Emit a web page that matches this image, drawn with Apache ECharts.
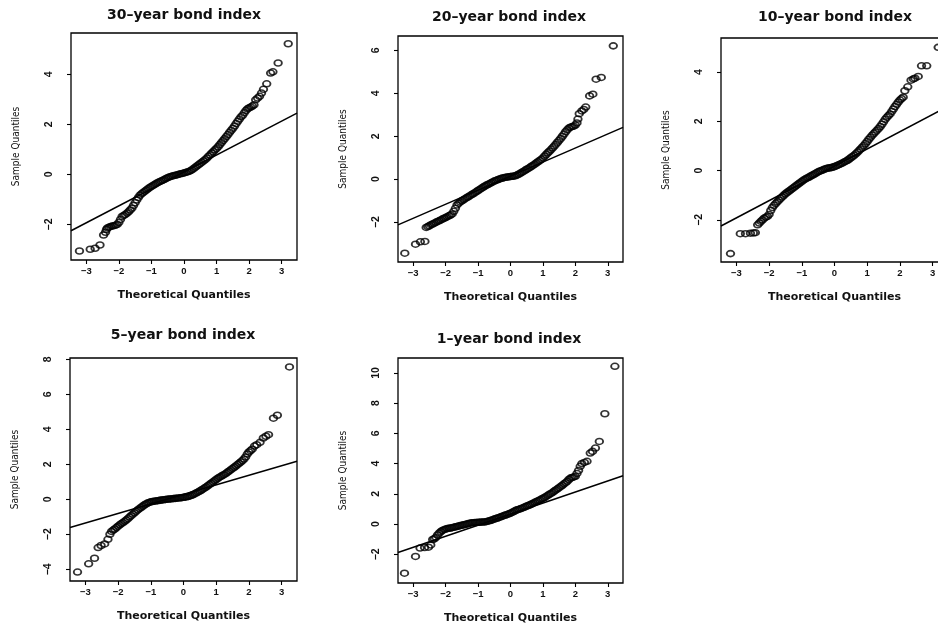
<!DOCTYPE html>
<html>
<head>
<meta charset="utf-8">
<script src="https://cdn.jsdelivr.net/npm/echarts@6/dist/echarts.min.js"></script>
<style>
  html, body { margin: 0; padding: 0; background: #fff; }
  #chart { width: 938px; height: 629px; }
</style>
</head>
<body>
<div id="chart"></div>
<script>
// Normal Q-Q plots of daily returns for five bond indices.
const titles = ['30–year bond index', '20–year bond index', '10–year bond index', '5–year bond index', '1–year bond index'];

// Tick values
const xTicks = [-3, -2, -1, 0, 1, 2, 3];
const yTicks30 = [-2, 0, 2, 4];
const yTicks20 = [-2, 0, 2, 4, 6];
const yTicks10 = [-2, 0, 2, 4];
const yTicks5 = [-4, -2, 0, 2, 4, 6, 8];
const yTicks1 = [-2, 0, 2, 4, 6, 8, 10];

// Axis extents
const xRange = [-3.47, 3.47];
const yRange30 = [-3.42, 5.65];
const yRange20 = [-3.86, 6.67];
const yRange10 = [-3.71, 5.38];
const yRange5 = [-4.67, 8.07];
const yRange1 = [-3.9, 10.99];

// [theoretical quantile, sample quantile]
const q30 = [
  [-3.21,-3.06],[-2.88,-2.99],[-2.73,-2.95],[-2.58,-2.82],[-2.47,-2.42],[-2.41,-2.31],[-2.38,-2.20],
  [-2.35,-2.14],[-2.30,-2.11],[-2.25,-2.08],[-2.20,-2.06],[-2.15,-2.05],[-2.10,-2.03],[-2.05,-2.00],[-2.00,-1.92],
  [-1.95,-1.80],[-1.90,-1.68],[-1.85,-1.64],[-1.80,-1.60],[-1.75,-1.55],[-1.70,-1.49],[-1.65,-1.42],[-1.60,-1.35],
  [-1.55,-1.24],[-1.50,-1.13],[-1.45,-1.02],[-1.40,-0.92],[-1.35,-0.83],[-1.30,-0.77],[-1.25,-0.72],[-1.20,-0.67],
  [-1.15,-0.62],[-1.10,-0.57],[-1.05,-0.52],[-1.00,-0.48],[-0.95,-0.44],[-0.90,-0.40],[-0.85,-0.36],[-0.80,-0.32],
  [-0.75,-0.29],[-0.70,-0.26],[-0.65,-0.23],[-0.60,-0.20],[-0.55,-0.16],[-0.50,-0.13],[-0.45,-0.10],[-0.40,-0.08],
  [-0.35,-0.06],[-0.30,-0.04],[-0.25,-0.03],[-0.20,-0.01],[-0.15,0.01],[-0.10,0.03],[-0.05,0.04],[0.00,0.06],
  [0.05,0.08],[0.10,0.10],[0.15,0.12],[0.20,0.15],[0.25,0.19],[0.30,0.24],[0.35,0.29],[0.40,0.34],
  [0.45,0.39],[0.50,0.44],[0.55,0.49],[0.60,0.54],[0.65,0.59],[0.70,0.65],[0.75,0.72],[0.80,0.78],
  [0.85,0.85],[0.90,0.91],[0.95,0.98],[1.00,1.04],[1.05,1.11],[1.10,1.19],[1.15,1.27],[1.20,1.35],
  [1.25,1.43],[1.30,1.51],[1.35,1.59],[1.40,1.68],[1.45,1.76],[1.50,1.84],[1.55,1.93],[1.60,2.03],
  [1.65,2.12],[1.70,2.21],[1.75,2.30],[1.80,2.36],[1.85,2.46],[1.90,2.55],[1.95,2.62],[2.00,2.66],
  [2.05,2.69],[2.10,2.73],[2.15,2.78],[2.20,2.98],[2.26,3.05],[2.32,3.12],[2.38,3.25],[2.44,3.40],
  [2.54,3.62],[2.66,4.05],[2.73,4.10],[2.89,4.45],[3.20,5.22]
];
const q20 = [
  [-3.26,-3.45],[-2.93,-3.03],[-2.78,-2.92],[-2.64,-2.90],[-2.60,-2.25],
  [-2.55,-2.21],[-2.50,-2.17],[-2.45,-2.12],[-2.40,-2.09],[-2.35,-2.05],[-2.30,-2.01],[-2.25,-1.97],[-2.20,-1.94],
  [-2.15,-1.90],[-2.10,-1.86],[-2.05,-1.82],[-2.00,-1.79],[-1.95,-1.75],[-1.90,-1.71],[-1.85,-1.67],[-1.80,-1.62],
  [-1.75,-1.50],[-1.70,-1.36],[-1.65,-1.20],[-1.60,-1.12],[-1.55,-1.06],[-1.50,-1.01],[-1.45,-0.96],[-1.40,-0.91],
  [-1.35,-0.86],[-1.30,-0.82],[-1.25,-0.77],[-1.20,-0.72],[-1.15,-0.68],[-1.10,-0.63],[-1.05,-0.58],[-1.00,-0.53],
  [-0.95,-0.48],[-0.90,-0.43],[-0.85,-0.38],[-0.80,-0.33],[-0.75,-0.29],[-0.70,-0.25],[-0.65,-0.21],[-0.60,-0.17],
  [-0.55,-0.13],[-0.50,-0.09],[-0.45,-0.06],[-0.40,-0.03],[-0.35,0.00],[-0.30,0.03],[-0.25,0.05],[-0.20,0.07],
  [-0.15,0.09],[-0.10,0.10],[-0.05,0.11],[0.00,0.12],[0.05,0.13],[0.10,0.14],[0.15,0.16],[0.20,0.19],
  [0.25,0.23],[0.30,0.27],[0.35,0.32],[0.40,0.36],[0.45,0.41],[0.50,0.46],[0.55,0.50],[0.60,0.55],
  [0.65,0.60],[0.70,0.65],[0.75,0.70],[0.80,0.76],[0.85,0.81],[0.90,0.87],[0.95,0.92],[1.00,0.99],
  [1.05,1.07],[1.10,1.15],[1.15,1.23],[1.20,1.30],[1.25,1.38],[1.30,1.46],[1.35,1.54],[1.40,1.63],
  [1.45,1.72],[1.50,1.81],[1.55,1.90],[1.60,2.00],[1.65,2.10],[1.70,2.21],[1.75,2.30],[1.80,2.38],
  [1.85,2.42],[1.90,2.45],[1.95,2.47],[2.00,2.52],[2.05,2.62],[2.08,2.80],[2.12,3.05],[2.20,3.18],
  [2.26,3.25],[2.32,3.36],[2.44,3.88],[2.54,3.96],[2.64,4.66],[2.80,4.74],[3.17,6.21]
];
const q10 = [
  [-3.18,-3.37],[-2.88,-2.56],[-2.72,-2.56],[-2.57,-2.54],[-2.48,-2.53],[-2.42,-2.52],
  [-2.35,-2.20],[-2.30,-2.13],[-2.25,-2.06],[-2.20,-2.00],[-2.15,-1.93],[-2.10,-1.89],[-2.05,-1.86],[-2.00,-1.78],
  [-1.95,-1.62],[-1.90,-1.50],[-1.85,-1.41],[-1.80,-1.34],[-1.75,-1.27],[-1.70,-1.20],[-1.65,-1.13],[-1.60,-1.07],
  [-1.55,-1.00],[-1.50,-0.94],[-1.45,-0.89],[-1.40,-0.84],[-1.35,-0.79],[-1.30,-0.74],[-1.25,-0.69],[-1.20,-0.64],
  [-1.15,-0.59],[-1.10,-0.54],[-1.05,-0.49],[-1.00,-0.44],[-0.95,-0.39],[-0.90,-0.35],[-0.85,-0.31],[-0.80,-0.28],
  [-0.75,-0.24],[-0.70,-0.20],[-0.65,-0.17],[-0.60,-0.13],[-0.55,-0.09],[-0.50,-0.05],[-0.45,-0.02],[-0.40,0.00],
  [-0.35,0.03],[-0.30,0.06],[-0.25,0.08],[-0.20,0.10],[-0.15,0.11],[-0.10,0.12],[-0.05,0.14],[0.00,0.16],
  [0.05,0.19],[0.10,0.22],[0.15,0.25],[0.20,0.28],[0.25,0.31],[0.30,0.35],[0.35,0.38],[0.40,0.42],
  [0.45,0.47],[0.50,0.52],[0.55,0.57],[0.60,0.62],[0.65,0.68],[0.70,0.74],[0.75,0.81],[0.80,0.88],
  [0.85,0.95],[0.90,1.02],[0.95,1.10],[1.00,1.18],[1.05,1.27],[1.10,1.35],[1.15,1.43],[1.20,1.50],
  [1.25,1.57],[1.30,1.64],[1.35,1.71],[1.40,1.79],[1.45,1.88],[1.50,1.98],[1.55,2.08],[1.60,2.16],
  [1.65,2.23],[1.70,2.30],[1.75,2.40],[1.80,2.50],[1.85,2.60],[1.90,2.69],[1.95,2.78],[2.00,2.86],
  [2.05,2.92],[2.10,2.98],[2.15,3.24],[2.24,3.40],[2.34,3.67],[2.41,3.72],[2.46,3.75],[2.56,3.82],
  [2.66,4.25],[2.82,4.25],[3.17,5.00]
];
const q5 = [
  [-3.24,-4.16],[-2.90,-3.69],[-2.72,-3.37],[-2.61,-2.76],[-2.52,-2.64],[-2.41,-2.55],[-2.31,-2.29],[-2.25,-2.00],
  [-2.20,-1.84],[-2.15,-1.76],[-2.10,-1.70],[-2.05,-1.62],[-2.00,-1.54],[-1.95,-1.46],[-1.90,-1.39],[-1.85,-1.33],
  [-1.80,-1.26],[-1.75,-1.19],[-1.70,-1.11],[-1.65,-1.02],[-1.60,-0.94],[-1.55,-0.85],[-1.50,-0.77],[-1.45,-0.69],
  [-1.40,-0.61],[-1.35,-0.54],[-1.30,-0.47],[-1.25,-0.40],[-1.20,-0.33],[-1.15,-0.27],[-1.10,-0.22],[-1.05,-0.18],
  [-1.00,-0.15],[-0.95,-0.13],[-0.90,-0.11],[-0.85,-0.10],[-0.80,-0.08],[-0.75,-0.07],[-0.70,-0.05],[-0.65,-0.04],
  [-0.60,-0.03],[-0.55,-0.01],[-0.50,0.00],[-0.45,0.01],[-0.40,0.02],[-0.35,0.03],[-0.30,0.04],[-0.25,0.05],
  [-0.20,0.06],[-0.15,0.07],[-0.10,0.08],[-0.05,0.09],[0.00,0.11],[0.05,0.12],[0.10,0.14],[0.15,0.16],
  [0.20,0.19],[0.25,0.23],[0.30,0.27],[0.35,0.32],[0.40,0.37],[0.45,0.42],[0.50,0.47],[0.55,0.53],
  [0.60,0.59],[0.65,0.65],[0.70,0.71],[0.75,0.78],[0.80,0.85],[0.85,0.92],[0.90,0.99],[0.95,1.06],
  [1.00,1.13],[1.05,1.20],[1.10,1.26],[1.15,1.31],[1.20,1.37],[1.25,1.42],[1.30,1.48],[1.35,1.55],
  [1.40,1.62],[1.45,1.69],[1.50,1.76],[1.55,1.83],[1.60,1.90],[1.65,1.98],[1.70,2.05],[1.75,2.13],
  [1.80,2.21],[1.85,2.30],[1.90,2.42],[1.95,2.58],[2.00,2.70],[2.05,2.78],[2.10,2.86],[2.17,3.04],
  [2.24,3.12],[2.34,3.25],[2.44,3.50],[2.52,3.60],[2.60,3.69],[2.75,4.63],[2.87,4.80],[3.24,7.56]
];
const q1 = [
  [-3.27,-3.25],[-2.93,-2.14],[-2.79,-1.59],[-2.65,-1.55],[-2.53,-1.53],[-2.46,-1.38],
  [-2.40,-1.02],[-2.35,-0.97],[-2.30,-0.88],[-2.25,-0.72],[-2.20,-0.60],[-2.15,-0.50],[-2.10,-0.42],[-2.05,-0.37],
  [-2.00,-0.33],[-1.95,-0.30],[-1.90,-0.28],[-1.85,-0.26],[-1.80,-0.24],[-1.75,-0.21],[-1.70,-0.18],[-1.65,-0.16],
  [-1.60,-0.13],[-1.55,-0.10],[-1.50,-0.08],[-1.45,-0.05],[-1.40,-0.03],[-1.35,0.00],[-1.30,0.03],[-1.25,0.06],
  [-1.20,0.08],[-1.15,0.09],[-1.10,0.10],[-1.05,0.11],[-1.00,0.12],[-0.95,0.12],[-0.90,0.13],[-0.85,0.13],
  [-0.80,0.14],[-0.75,0.16],[-0.70,0.19],[-0.65,0.22],[-0.60,0.25],[-0.55,0.29],[-0.50,0.33],[-0.45,0.37],
  [-0.40,0.40],[-0.35,0.44],[-0.30,0.48],[-0.25,0.52],[-0.20,0.56],[-0.15,0.60],[-0.10,0.64],[-0.05,0.68],
  [0.00,0.72],[0.05,0.77],[0.10,0.83],[0.15,0.89],[0.20,0.94],[0.25,0.97],[0.30,1.01],[0.35,1.05],
  [0.40,1.09],[0.45,1.14],[0.50,1.19],[0.55,1.23],[0.60,1.28],[0.65,1.33],[0.70,1.38],[0.75,1.44],
  [0.80,1.49],[0.85,1.54],[0.90,1.59],[0.95,1.65],[1.00,1.70],[1.05,1.76],[1.10,1.83],[1.15,1.90],
  [1.20,1.97],[1.25,2.03],[1.30,2.10],[1.35,2.18],[1.40,2.26],[1.45,2.33],[1.50,2.41],[1.55,2.49],
  [1.60,2.57],[1.65,2.66],[1.70,2.74],[1.75,2.83],[1.80,2.95],[1.85,3.04],[1.90,3.08],[1.95,3.12],
  [2.00,3.16],[2.05,3.35],[2.10,3.55],[2.15,3.82],[2.20,4.00],[2.28,4.08],[2.36,4.15],[2.46,4.70],
  [2.53,4.81],[2.62,5.03],[2.74,5.47],[2.91,7.30],[3.22,10.44]
];

// Reference lines through the quartiles (end points at the plot edges)
const line30 = [[-3.47, -2.25], [3.47, 2.45]];
const line20 = [[-3.47, -2.13], [3.47, 2.41]];
const line10 = [[-3.47, -2.25], [3.47, 2.61]];
const line5 = [[-3.47, -1.61], [3.47, 2.17]];
const line1 = [[-3.47, -1.88], [3.47, 3.20]];

const panels = [
  { title: titles[0], points: q30, line: line30, yRange: yRange30, yTicks: yTicks30 },
  { title: titles[1], points: q20, line: line20, yRange: yRange20, yTicks: yTicks20 },
  { title: titles[2], points: q10, line: line10, yRange: yRange10, yTicks: yTicks10 },
  { title: titles[3], points: q5, line: line5, yRange: yRange5, yTicks: yTicks5 },
  { title: titles[4], points: q1, line: line1, yRange: yRange1, yTicks: yTicks1 }
];

// Plot boxes (px) and title centres
const layout = [
  { left: 71, top: 33, width: 226, height: 227, tx: 184, ty: 15 },
  { left: 398, top: 36, width: 225, height: 226, tx: 509, ty: 17 },
  { left: 721, top: 38, width: 227, height: 224, tx: 835, ty: 17 },
  { left: 70, top: 358, width: 227, height: 223, tx: 183, ty: 335 },
  { left: 398, top: 358, width: 225, height: 225, tx: 509, ty: 339 }
];

const ink = '#111';
const tickFont = { fontFamily: 'Liberation Sans, Arial, sans-serif', fontWeight: 'bold', fontSize: 9.5, color: ink };
const minus = v => (v < 0 ? '\u2212' + Math.abs(v) : String(v));

const option = {
  backgroundColor: '#fff',
  animation: false,
  title: panels.map((p, i) => ({
    text: p.title,
    left: layout[i].tx,
    top: layout[i].ty,
    textAlign: 'center',
    textVerticalAlign: 'middle',
    padding: 0,
    textStyle: { fontFamily: 'DejaVu Sans, sans-serif', fontWeight: 'bold', fontSize: 14, color: ink }
  })),
  grid: layout.map(g => ({
    left: g.left, top: g.top, width: g.width, height: g.height,
    show: true, borderColor: '#000', borderWidth: 1.3, backgroundColor: 'transparent',
    containLabel: false, outerBoundsMode: 'none'
  })),
  xAxis: panels.map((p, i) => ({
    type: 'value', gridIndex: i, min: xRange[0], max: xRange[1], position: 'bottom',
    name: 'Theoretical Quantiles', nameLocation: 'middle', nameGap: 30,
    nameTextStyle: { fontFamily: 'DejaVu Sans, sans-serif', fontWeight: 'bold', fontSize: 11, color: ink },
    axisLine: { show: false, onZero: false },
    axisTick: { show: true, length: 4, customValues: xTicks, lineStyle: { color: '#000', width: 1.1 } },
    axisLabel: Object.assign({ customValues: xTicks, formatter: minus, margin: 6 }, tickFont),
    splitLine: { show: false }
  })),
  yAxis: panels.map((p, i) => ({
    type: 'value', gridIndex: i, min: p.yRange[0], max: p.yRange[1], position: 'left',
    name: 'Sample Quantiles', nameLocation: 'middle', nameGap: 50, nameRotate: 90,
    nameTextStyle: { fontFamily: "'Liberation Sans Narrow', 'DejaVu Sans Condensed', 'Liberation Sans', sans-serif", fontSize: 10, color: ink },
    axisLine: { show: false, onZero: false },
    axisTick: { show: true, length: 4, customValues: p.yTicks, lineStyle: { color: '#000', width: 1.1 } },
    axisLabel: Object.assign({ customValues: p.yTicks, formatter: minus, margin: 16, rotate: 90 }, tickFont, { fontSize: 10.5 }),
    splitLine: { show: false }
  })),
  series: panels.flatMap((p, i) => [
    {
      type: 'scatter', xAxisIndex: i, yAxisIndex: i, data: p.points,
      symbol: 'circle', symbolSize: [7.5, 6], silent: true,
      itemStyle: { color: 'rgba(255,255,255,0)', borderColor: '#000', borderWidth: 1.7 }
    },
    {
      type: 'line', xAxisIndex: i, yAxisIndex: i, data: p.line,
      showSymbol: false, symbol: 'none', silent: true,
      lineStyle: { color: '#000', width: 1.5 }
    }
  ])
};

const chart = echarts.init(document.getElementById('chart'), null, { renderer: 'canvas' });
chart.setOption(option);
</script>
</body>
</html>
